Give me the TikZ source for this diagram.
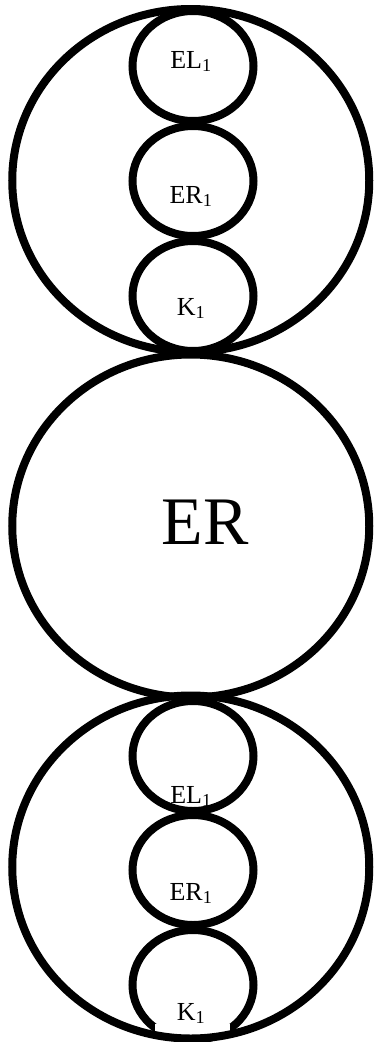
\documentclass[tikz,border=0pt]{standalone}
\usepackage{fontspec}
\setmainfont{Liberation Serif}
\usetikzlibrary{shapes.geometric}
\begin{document}
\begin{tikzpicture}[
      x = 1pt, y = -1pt,
      outer/.style = {
        ellipse, draw, line width = 8pt,
        minimum width = 357pt, minimum height = 343pt,
        inner sep = 0pt
      }, inner/.style = {
        ellipse, draw, line width = 8pt,
        minimum width = 121pt, minimum height = 110pt,
        inner sep = 0pt
      }
    ]
      \tikzset{lbl/.style={anchor=base,inner sep=0pt,font=\fontsize{26}{28}\selectfont}}
      \useasboundingbox (0,0) rectangle (373,1042);
      % upper group
      \node[inner] (el1) at (193,66)  {};
      \node[inner] (er1) at (193,181) {};
      \node[inner] (k1)  at (193,296) {};
      % lower group
      \node[inner] (el2) at (193,756) {};
      \node[inner] (er2) at (193,870) {};
      \node[inner] (k2)  at (193,985) {};
      \fill[white] (155,1024) rectangle (230,1036);
      % big circles
      \node[outer] (top) at (190.75,180.5) {};
      \node[outer] (er)  at (190.75,526)   {};
      \node[outer] (bot) at (190.75,867)   {};
      % labels
      \node[lbl] (el1l) at (191,68)   {EL\textsubscript{1}};
      \node[lbl] (er1l) at (191,203)  {ER\textsubscript{1}};
      \node[lbl] (k1l)  at (191,315)  {K\textsubscript{1}};
      \node[anchor=base,inner sep=0pt,font=\fontsize{68}{70}\selectfont] (erl) at (205,544) {ER};
      \node[lbl] (el2l) at (191,803)  {EL\textsubscript{1}};
      \node[lbl] (er2l) at (191,900)  {ER\textsubscript{1}};
      \node[lbl] (k2l)  at (191,1020) {K\textsubscript{1}};
    \end{tikzpicture}
\end{document}
